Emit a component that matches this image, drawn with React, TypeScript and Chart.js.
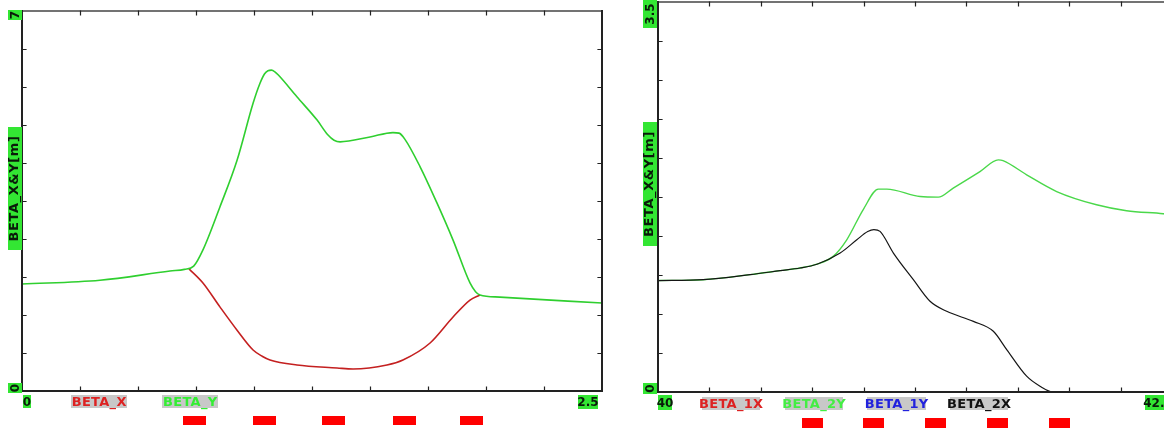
import React, { useEffect, useRef } from 'react';
import { Chart, registerables } from 'chart.js';

Chart.register(...registerables);

// ---------- Left panel data (s [m] vs beta [m]) ----------
const leftGreenX = [0, 0.336, 0.638, 0.7, 0.74, 0.78, 0.853, 0.927, 0.996, 1.025, 1.045, 1.06, 1.075, 1.09, 1.105, 1.185, 1.272, 1.318, 1.345, 1.371, 1.5, 1.599, 1.625, 1.65, 1.716, 1.789, 1.858, 1.931, 1.955, 1.974, 2.06, 2.5];
const leftGreenY = [1.97, 2.04, 2.21, 2.24, 2.3, 2.6, 3.39, 4.25, 5.3, 5.66, 5.84, 5.9, 5.91, 5.88, 5.82, 5.42, 4.99, 4.72, 4.62, 4.59, 4.68, 4.76, 4.75, 4.64, 4.13, 3.46, 2.78, 1.99, 1.83, 1.77, 1.73, 1.62];
const leftRedX = [0.72, 0.78, 0.853, 0.927, 0.996, 1.035, 1.069, 1.185, 1.358, 1.427, 1.573, 1.642, 1.759, 1.858, 1.931, 1.974];
const leftRedY = [2.25, 1.99, 1.55, 1.12, 0.755, 0.64, 0.571, 0.479, 0.424, 0.405, 0.479, 0.571, 0.884, 1.363, 1.676, 1.77];

// ---------- Right panel data ----------
const rightBlackX = [40, 40.22, 40.448, 40.594, 40.691, 40.773, 40.886, 40.967, 41.02, 41.05, 41.08, 41.145, 41.242, 41.323, 41.404, 41.534, 41.631, 41.696, 41.793, 41.858, 41.922, 42.5];
const rightBlackY = [1.0, 1.008, 1.053, 1.089, 1.113, 1.147, 1.247, 1.366, 1.44, 1.458, 1.441, 1.247, 1.008, 0.814, 0.724, 0.634, 0.545, 0.381, 0.142, 0.052, 0, 0];
const rightGreenX = [40, 40.22, 40.448, 40.594, 40.691, 40.773, 40.852, 40.918, 40.999, 41.072, 41.113, 41.275, 41.363, 41.436, 41.566, 41.655, 41.678, 41.793, 41.939, 42.133, 42.279, 42.457, 42.5];
const rightGreenY = [1.0, 1.008, 1.053, 1.089, 1.113, 1.147, 1.217, 1.366, 1.64, 1.821, 1.821, 1.754, 1.749, 1.83, 1.978, 2.083, 2.077, 1.949, 1.799, 1.68, 1.627, 1.6, 1.59];

// ---------- Magnets (centres) ----------
const leftMagnets = [0.745, 1.047, 1.345, 1.647, 1.94];
const rightMagnets = [40.748, 41.048, 41.349, 41.651, 41.951];
const magnetWidth = 0.1;

// ---------- Texts ----------
const leftXTickLabels = ['0', '2.5'];
const leftYTickLabels = ['0', '7'];
const rightXTickLabels = ['40', '42.5'];
const rightYTickLabels = ['0', '3.5'];
const leftLegendLabels = ['BETA_X', 'BETA_Y'];
const rightLegendLabels = ['BETA_1X', 'BETA_2Y', 'BETA_1Y', 'BETA_2X'];
const yAxisTitle = 'BETA_X&Y[m]';

const GREEN_BOX = '#33e633';
const GRAY_BOX = '#c8c8c8';
const FONT = 'bold 12px "DejaVu Sans", Verdana, sans-serif';
const TITLE_FONT = 'bold 13px "DejaVu Sans", Verdana, sans-serif';

type Box = { x: number; y: number; w: number; h: number };
type Decor = {
  id: string;
  xMin: number; xMax: number; xStep: number;
  yMin: number; yMax: number; yStep: number;
  xLabels: string[]; xLabelBoxes: Box[];
  yLabels: string[]; yLabelBoxes: Box[];
  legend: string[]; legendColors: string[]; legendBoxes: Box[];
  titleBox: Box;
  magnets: number[]; magnetTop: number; magnetH: number;
};

function rotText(ctx: CanvasRenderingContext2D, text: string, cx: number, cy: number) {
  ctx.save();
  ctx.translate(cx, cy);
  ctx.rotate(-Math.PI / 2);
  ctx.textAlign = 'center';
  ctx.textBaseline = 'middle';
  ctx.fillText(text, 0, -0.5);
  ctx.restore();
}

function makeDecor(d: Decor) {
  return {
    id: 'decor_' + d.id,
    afterDraw(chart: any) {
      const ctx: CanvasRenderingContext2D = chart.ctx;
      const a = chart.chartArea;
      const xs = chart.scales.x;
      const ys = chart.scales.y;
      ctx.save();
      ctx.lineCap = 'square';
      ctx.strokeStyle = '#444';
      ctx.lineWidth = 1.5;
      ctx.beginPath();
      ctx.moveTo(a.left, a.top);
      ctx.lineTo(a.right, a.top);
      ctx.stroke();
      ctx.strokeStyle = '#222';
      ctx.lineWidth = 2;
      ctx.beginPath();
      ctx.moveTo(a.left, a.top);
      ctx.lineTo(a.left, a.bottom);
      ctx.lineTo(a.right, a.bottom);
      ctx.lineTo(a.right, a.top);
      ctx.stroke();
      ctx.lineWidth = 1.2;
      ctx.strokeStyle = '#222';
      ctx.beginPath();
      const nx = Math.round((d.xMax - d.xMin) / d.xStep);
      for (let i = 1; i < nx; i++) {
        const px = Math.round(xs.getPixelForValue(d.xMin + i * d.xStep)) + 0.5;
        ctx.moveTo(px, a.top);
        ctx.lineTo(px, a.top + 4);
        ctx.moveTo(px, a.bottom);
        ctx.lineTo(px, a.bottom - 4);
      }
      const ny = Math.round((d.yMax - d.yMin) / d.yStep);
      for (let i = 1; i < ny; i++) {
        const py = Math.round(ys.getPixelForValue(d.yMin + i * d.yStep)) + 0.5;
        ctx.moveTo(a.left, py);
        ctx.lineTo(a.left + 4, py);
        ctx.moveTo(a.right, py);
        ctx.lineTo(a.right - 4, py);
      }
      ctx.stroke();

      ctx.fillStyle = '#ff0000';
      d.magnets.forEach((c) => {
        const x0 = xs.getPixelForValue(c - magnetWidth / 2);
        const x1 = xs.getPixelForValue(c + magnetWidth / 2);
        ctx.fillRect(Math.round(x0), a.bottom + d.magnetTop, Math.round(x1 - x0), d.magnetH);
      });

      const tb = d.titleBox;
      ctx.fillStyle = GREEN_BOX;
      ctx.fillRect(a.left + tb.x, tb.y, tb.w, tb.h);
      ctx.fillStyle = '#0a1a0a';
      ctx.font = TITLE_FONT;
      (ctx as any).letterSpacing = '0.6px';
      rotText(ctx, yAxisTitle, a.left + tb.x + tb.w / 2, tb.y + tb.h / 2);
      (ctx as any).letterSpacing = '0px';

      ctx.font = FONT;
      d.yLabels.forEach((t, i) => {
        const b = d.yLabelBoxes[i];
        const yy = i === 0 ? a.bottom + b.y : a.top + b.y;
        ctx.fillStyle = GREEN_BOX;
        ctx.fillRect(a.left + b.x, yy, b.w, b.h);
        ctx.fillStyle = '#0a1a0a';
        rotText(ctx, t, a.left + b.x + b.w / 2 + 1, yy + b.h / 2);
      });

      ctx.textBaseline = 'middle';
      ctx.textAlign = 'center';
      d.xLabels.forEach((t, i) => {
        const b = d.xLabelBoxes[i];
        const xx = i === 0 ? a.left + b.x : a.right + b.x;
        ctx.fillStyle = GREEN_BOX;
        ctx.fillRect(xx, a.bottom + b.y, b.w, b.h);
        ctx.fillStyle = '#0a1a0a';
        ctx.fillText(t, xx + b.w / 2, a.bottom + b.y + b.h / 2 + 1);
      });

      ctx.font = TITLE_FONT;
      d.legend.forEach((t, i) => {
        const b = d.legendBoxes[i];
        ctx.fillStyle = GRAY_BOX;
        ctx.fillRect(a.left + b.x, a.bottom + b.y, b.w, b.h);
        ctx.fillStyle = d.legendColors[i];
        (ctx as any).letterSpacing = '0.3px';
        ctx.fillText(t, a.left + b.x + b.w / 2 + 0.2, a.bottom + b.y + b.h / 2 + 1);
        (ctx as any).letterSpacing = '0px';
      });
      ctx.restore();
    },
  };
}

const leftDecor: Decor = {
  id: 'left',
  xMin: 0, xMax: 2.5, xStep: 0.25,
  yMin: 0, yMax: 7, yStep: 0.7,
  xLabels: leftXTickLabels,
  xLabelBoxes: [{ x: 1, y: 4, w: 8, h: 13 }, { x: -24, y: 4, w: 20, h: 14 }],
  yLabels: leftYTickLabels,
  yLabelBoxes: [{ x: -14, y: -8, w: 14, h: 10 }, { x: -14, y: -1, w: 14, h: 10 }],
  legend: leftLegendLabels,
  legendColors: ['#dd2222', '#33ee33'],
  legendBoxes: [{ x: 49, y: 4, w: 56, h: 13 }, { x: 140, y: 4, w: 56, h: 13 }],
  titleBox: { x: -14, y: 127, w: 14, h: 123 },
  magnets: leftMagnets, magnetTop: 25, magnetH: 9,
};

const rightDecor: Decor = {
  id: 'right',
  xMin: 40, xMax: 42.5, xStep: 0.25,
  yMin: 0, yMax: 3.5, yStep: 0.35,
  xLabels: rightXTickLabels,
  xLabelBoxes: [{ x: 0, y: 3, w: 14, h: 15 }, { x: -27, y: 3, w: 26, h: 15 }],
  yLabels: rightYTickLabels,
  yLabelBoxes: [{ x: -15, y: -9, w: 14, h: 11 }, { x: -15, y: -2, w: 14, h: 28 }],
  legend: rightLegendLabels,
  legendColors: ['#dd2222', '#44ee44', '#2222dd', '#111111'],
  legendBoxes: [
    { x: 44, y: 5, w: 58, h: 13 },
    { x: 127, y: 5, w: 58, h: 13 },
    { x: 209, y: 5, w: 59, h: 13 },
    { x: 292, y: 5, w: 58, h: 13 },
  ],
  titleBox: { x: -15, y: 122, w: 14, h: 124 },
  magnets: rightMagnets, magnetTop: 26, magnetH: 10,
};

function pts(xs: number[], ys: number[]) {
  return xs.map((x, i) => ({ x, y: ys[i] }));
}

function baseOptions(xMin: number, xMax: number, yMin: number, yMax: number, pad: any) {
  return {
    responsive: false,
    animation: false as const,
    layout: { padding: pad },
    plugins: { legend: { display: false }, tooltip: { enabled: false } },
    elements: { point: { radius: 0 }, line: { cubicInterpolationMode: 'monotone' } },
    scales: {
      x: { type: 'linear' as const, min: xMin, max: xMax, display: false },
      y: { type: 'linear' as const, min: yMin, max: yMax, display: false },
    },
  };
}

function Panel({ which }: { which: 'left' | 'right' }) {
  const ref = useRef<HTMLCanvasElement>(null);
  useEffect(() => {
    if (!ref.current) return;
    let chart: Chart;
    if (which === 'left') {
      chart = new Chart(ref.current, {
        type: 'line',
        data: {
          datasets: [
            { label: 'BETA_Y', data: pts(leftGreenX, leftGreenY), borderColor: '#2fcf2f', borderWidth: 1.6, order: 1 },
            { label: 'BETA_X', data: pts(leftRedX, leftRedY), borderColor: '#c42020', borderWidth: 1.6, order: 2 },
          ],
        },
        options: baseOptions(0, 2.5, 0, 7, { left: 22, right: 18, top: 11, bottom: 38 }) as any,
        plugins: [makeDecor(leftDecor)],
      });
    } else {
      chart = new Chart(ref.current, {
        type: 'line',
        data: {
          datasets: [
            { label: 'BETA_2X', data: pts(rightBlackX, rightBlackY), borderColor: '#151515', borderWidth: 1.2, order: 1 },
            { label: 'BETA_2Y', data: pts(rightGreenX, rightGreenY), borderColor: '#4ad84a', borderWidth: 1.4, order: 2 },
          ],
        },
        options: baseOptions(40, 42.5, 0, 3.5, { left: 38, right: 28, top: 2, bottom: 37 }) as any,
        plugins: [makeDecor(rightDecor)],
      });
    }
    return () => chart.destroy();
  }, [which]);
  return (
    <canvas
      ref={ref}
      width={which === 'left' ? 620 : 580}
      height={429}
      style={{ position: 'absolute', left: which === 'left' ? 0 : 620, top: 0, display: 'block' }}
    />
  );
}

export default function App() {
  return (
    <div style={{ position: 'absolute', left: 0, top: 0, width: 1164, height: 429, overflow: 'hidden', background: '#ffffff' }}>
      <Panel which="left" />
      <Panel which="right" />
    </div>
  );
}
